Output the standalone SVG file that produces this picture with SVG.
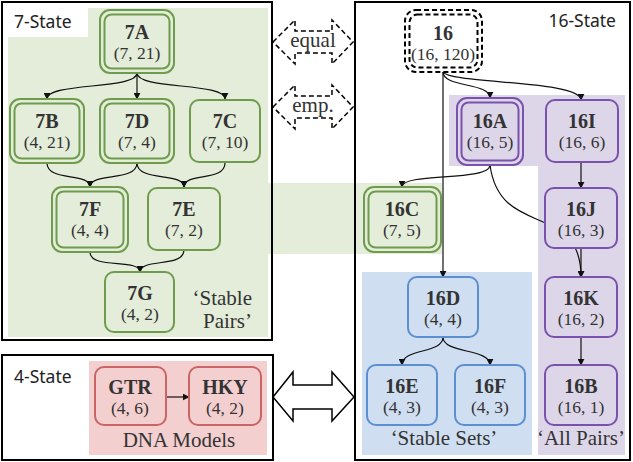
<svg xmlns="http://www.w3.org/2000/svg" width="633" height="462" viewBox="0 0 633 462">
<defs>
<style>
.box{fill:none;stroke:#000;stroke-width:2}
.lbl{font-family:"Noto Sans","Open Sans",sans-serif;font-size:17.5px;fill:#222}
.t1{font-family:"Liberation Serif",serif;font-weight:bold;font-size:20px;fill:#333;text-anchor:middle}
.t2{font-family:"Liberation Serif",serif;font-size:17.5px;fill:#333;text-anchor:middle}
.cap{font-family:"Liberation Serif",serif;font-size:21px;fill:#333}
.g{fill:#e3edd9;stroke:#6f9c4c;stroke-width:2}
.p{fill:#ddd6e9;stroke:#7b52ab;stroke-width:2}
.b{fill:#cfdef0;stroke:#5b8fd0;stroke-width:2}
.r{fill:#f3cfcf;stroke:#c96565;stroke-width:2}
.d{fill:#fff;stroke:#000;stroke-width:2;stroke-dasharray:5 3}
.c{fill:none;stroke:#111;stroke-width:1.2}
.da{fill:#fff;stroke:#000;stroke-width:1.5;stroke-dasharray:5 3}
.sa{fill:#fff;stroke:#000;stroke-width:1.5}
</style>
<marker id="ah" viewBox="0 0 10 10" refX="9" refY="5" markerWidth="7" markerHeight="7" orient="auto" markerUnits="userSpaceOnUse"><path d="M0,0 L10,5 L0,10 z" fill="#111"/></marker>
</defs>
<rect width="633" height="462" fill="#fff"/>

<!-- backgrounds -->
<g id="bg">
<rect x="8" y="8" width="260" height="329" fill="#e3edd9"/>
<rect x="8" y="8" width="80" height="29" fill="#fff"/>
<rect x="268" y="183" width="174" height="71" fill="#e3edd9"/>
<rect x="449" y="95" width="176" height="71" fill="#ddd6e9"/>
<rect x="538" y="95" width="87" height="360" fill="#ddd6e9"/>
<rect x="362" y="272" width="170" height="183" fill="#cfdef0"/>
<rect x="89" y="361" width="178" height="94" fill="#f3cfcf"/>
</g>

<g id="frames">
<rect class="box" x="2" y="2" width="270" height="338"/>
<rect class="box" x="2" y="355" width="271" height="105"/>
<rect class="box" x="355" y="2" width="275" height="458"/>
<text class="lbl" x="14" y="28">7-State</text>
<text class="lbl" x="14" y="383">4-State</text>
<text class="lbl" x="616" y="27" text-anchor="end">16-State</text>
<text class="cap" x="252" y="305" text-anchor="end">‘Stable</text>
<text class="cap" x="252" y="328" text-anchor="end">Pairs’</text>
<text class="cap" x="444" y="445" text-anchor="middle">‘Stable Sets’</text>
<text class="cap" x="581" y="445" text-anchor="middle">‘All Pairs’</text>
<text class="cap" x="179" y="447" text-anchor="middle" font-size="20">DNA Models</text>
</g>

<g id="equal">
<polygon class="da" points="273,42 295,20 295,31 332,31 332,20 353,42 332,64 332,53 295,53 295,64"/>
<text class="cap" x="313" y="47" text-anchor="middle" font-size="18">equal</text>
</g>
<g id="emp">
<polygon class="da" points="273,107 295,85 295,96 332,96 332,85 353,107 332,129 332,118 295,118 295,129"/>
<text class="cap" x="313" y="112" text-anchor="middle" font-size="18">emp.</text>
</g>
<g id="equiv">
<polygon class="sa" points="273,397 293,372 293,385 332,385 332,372 354,397 332,421 332,409 293,409 293,421"/>
</g>

<g id="connectors">
<path class="c" marker-end="url(#ah)" d="M137,73 C137,90 47,82 47,99"/>
<path class="c" marker-end="url(#ah)" d="M137,73 L137,99"/>
<path class="c" marker-end="url(#ah)" d="M137,73 C137,90 225,82 225,99"/>
<path class="c" marker-end="url(#ah)" d="M47,163 C47,182 90,172 90,187"/>
<path class="c" marker-end="url(#ah)" d="M137,163 C137,182 90,172 90,187"/>
<path class="c" marker-end="url(#ah)" d="M137,163 C137,182 184,172 184,187"/>
<path class="c" marker-end="url(#ah)" d="M225,163 C225,182 184,172 184,187"/>
<path class="c" marker-end="url(#ah)" d="M90,252 C90,270 140,258 140,272"/>
<path class="c" marker-end="url(#ah)" d="M184,250 C184,268 140,258 140,272"/>
<path class="c" marker-end="url(#ah)" d="M443,72 C443,88 490,82 490,98"/>
<path class="c" marker-end="url(#ah)" d="M443,72 C450,84 581,80 581,100"/>
<path class="c" marker-end="url(#ah)" d="M443,72 L443,277"/>
<path class="c" marker-end="url(#ah)" d="M490,165 C490,182 402,172 402,187"/>
<path class="c" marker-end="url(#ah)" d="M490,165 C500,240 581,200 581,277"/>
<path class="c" marker-end="url(#ah)" d="M581,162 L581,188"/>
<path class="c" marker-end="url(#ah)" d="M581,248 L581,277"/>
<path class="c" marker-end="url(#ah)" d="M581,337 L581,365"/>
<path class="c" marker-end="url(#ah)" d="M443,337 C443,354 402,348 402,365"/>
<path class="c" marker-end="url(#ah)" d="M443,337 C443,354 490,348 490,365"/>
<path class="c" marker-end="url(#ah)" d="M166,397 L189,397"/>
</g>

<!-- 7-state nodes -->
<g id="n7A"><rect class="g" x="100" y="10" width="74" height="63" rx="10"/><rect class="g" x="104.5" y="14.5" width="65" height="54" rx="7"/><text class="t1" x="137" y="39">7A</text><text class="t2" x="137" y="59">(7, 21)</text></g>
<g id="n7B"><rect class="g" x="10" y="99" width="74" height="64" rx="10"/><rect class="g" x="14.5" y="103.5" width="65" height="55" rx="7"/><text class="t1" x="47" y="128">7B</text><text class="t2" x="47" y="148">(4, 21)</text></g>
<g id="n7D"><rect class="g" x="100" y="99" width="74" height="64" rx="10"/><rect class="g" x="104.5" y="103.5" width="65" height="55" rx="7"/><text class="t1" x="137" y="128">7D</text><text class="t2" x="137" y="148">(7, 4)</text></g>
<g id="n7C"><rect class="g" x="190" y="100" width="70" height="62" rx="9"/><text class="t1" x="225" y="128">7C</text><text class="t2" x="225" y="148">(7, 10)</text></g>
<g id="n7F"><rect class="g" x="52" y="187" width="76" height="65" rx="10"/><rect class="g" x="56.5" y="191.5" width="67" height="56" rx="7"/><text class="t1" x="90" y="216">7F</text><text class="t2" x="90" y="236">(4, 4)</text></g>
<g id="n7E"><rect class="g" x="148" y="188" width="72" height="62" rx="9"/><text class="t1" x="184" y="216">7E</text><text class="t2" x="184" y="236">(7, 2)</text></g>
<g id="n7G"><rect class="g" x="105" y="272" width="69" height="60" rx="9"/><text class="t1" x="140" y="300">7G</text><text class="t2" x="140" y="320">(4, 2)</text></g>

<!-- 4-state -->
<g id="nGTR"><rect class="r" x="95" y="367" width="71" height="58" rx="9"/><text class="t1" x="130" y="394">GTR</text><text class="t2" x="130" y="414">(4, 6)</text></g>
<g id="nHKY"><rect class="r" x="189" y="367" width="72" height="58" rx="9"/><text class="t1" x="225" y="394">HKY</text><text class="t2" x="225" y="414">(4, 2)</text></g>

<!-- 16-state -->
<g id="n16"><rect class="d" x="405" y="10" width="77" height="62" rx="11"/><rect class="d" x="409.5" y="14.5" width="68" height="53" rx="8"/><text class="t1" x="443" y="40">16</text><text class="t2" x="443" y="60">(16, 120)</text></g>
<g id="n16A"><rect class="p" x="457" y="98" width="66" height="67" rx="10"/><rect class="p" x="461.5" y="102.5" width="57" height="58" rx="7"/><text class="t1" x="490" y="128">16A</text><text class="t2" x="490" y="148">(16, 5)</text></g>
<g id="n16I"><rect class="p" x="546" y="100" width="72" height="62" rx="9"/><text class="t1" x="582" y="128">16I</text><text class="t2" x="582" y="148">(16, 6)</text></g>
<g id="n16C"><rect class="g" x="364" y="187" width="77" height="65" rx="10"/><rect class="g" x="368.5" y="191.5" width="68" height="56" rx="7"/><text class="t1" x="402" y="216">16C</text><text class="t2" x="402" y="236">(7, 5)</text></g>
<g id="n16J"><rect class="p" x="545" y="188" width="72" height="60" rx="9"/><text class="t1" x="581" y="216">16J</text><text class="t2" x="581" y="236">(16, 3)</text></g>
<g id="n16D"><rect class="b" x="408" y="277" width="70" height="60" rx="9"/><text class="t1" x="443" y="305">16D</text><text class="t2" x="443" y="325">(4, 4)</text></g>
<g id="n16K"><rect class="p" x="545" y="277" width="72" height="60" rx="9"/><text class="t1" x="581" y="305">16K</text><text class="t2" x="581" y="325">(16, 2)</text></g>
<g id="n16E"><rect class="b" x="367" y="365" width="70" height="60" rx="9"/><text class="t1" x="402" y="393">16E</text><text class="t2" x="402" y="413">(4, 3)</text></g>
<g id="n16F"><rect class="b" x="455" y="365" width="70" height="60" rx="9"/><text class="t1" x="490" y="393">16F</text><text class="t2" x="490" y="413">(4, 3)</text></g>
<g id="n16B"><rect class="p" x="545" y="365" width="72" height="60" rx="9"/><text class="t1" x="581" y="393">16B</text><text class="t2" x="581" y="413">(16, 1)</text></g>
</svg>
